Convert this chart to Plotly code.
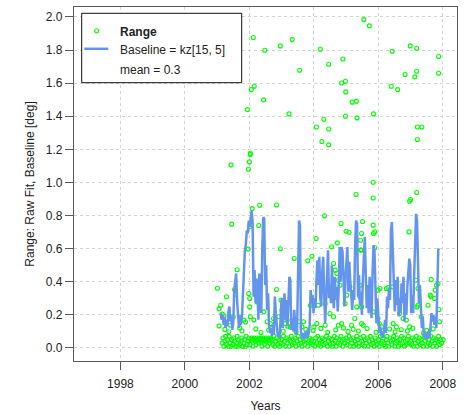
import plotly.graph_objects as go

# ---- Range fits: large outliers ----
high_years = [2002.12, 2002.48, 2002.96, 2003.33, 2003.56, 2002.06, 2002.15, 2002.44, 2001.94, 2003.23,
              2001.43, 2001.97, 2002.00, 2002.03, 2002.03, 2004.20, 2004.46, 2004.90, 2005.55, 2005.72,
              2004.86, 2004.98, 2004.99, 2005.19, 2005.32, 2004.98, 2005.34, 2005.85, 2004.08, 2004.31,
              2004.46, 2004.25, 2004.46, 2006.43, 2006.99, 2007.19, 2007.87, 2006.40, 2006.60, 2006.83,
              2007.13, 2007.19, 2007.87, 2007.21, 2007.35, 2007.21, 2005.84, 2005.31, 2005.84, 2007.19,
              2006.97, 2007.00]
high_vals = [1.876, 1.799, 1.825, 1.863, 1.678, 1.561, 1.581, 1.499, 1.440, 1.414,
             1.106, 1.080, 1.124, 1.176, 1.168, 1.805, 1.714, 1.746, 1.984, 1.946,
             1.601, 1.611, 1.547, 1.485, 1.491, 1.400, 1.390, 1.414, 1.335, 1.382,
             1.323, 1.247, 1.227, 1.793, 1.825, 1.811, 1.761, 1.581, 1.561, 1.652,
             1.638, 1.672, 1.660, 1.335, 1.335, 1.259, 1.001, 0.927, 0.906, 0.939,
             0.887, 0.897]

# ---- Range fits: middle values ----
mid_years = [2001.01, 2001.29, 2001.11, 2001.06, 2001.16, 2001.06, 2001.21, 2001.45, 2001.54, 2001.57,
             2001.62, 2001.50, 2001.42, 2001.83, 2001.88, 2001.98, 2002.01, 2002.01, 2001.96, 2002.01,
             2002.09, 2002.29, 2002.32, 2002.84, 2002.84, 2002.96, 2002.98, 2003.01, 2003.19, 2002.24,
             2002.45, 2002.55, 2002.65, 2002.75, 2002.91, 2003.11, 2002.03, 2002.14,
             2003.39, 2003.81, 2003.94, 2004.07, 2004.33, 2004.55, 2004.73, 2004.84, 2005.00, 2005.09,
             2005.51, 2005.48, 2004.66, 2004.71, 2004.76, 2004.61, 2004.81, 2004.55, 2004.97, 2005.02,
             2005.12, 2005.33, 2005.43, 2005.48, 2004.35, 2004.50, 2004.61, 2004.76, 2004.86, 2005.17,
             2005.27, 2004.14, 2004.09, 2003.89, 2003.68, 2003.63, 2003.27, 2003.17, 2003.53, 2004.35,
             2004.00, 2005.48,
             2005.84, 2005.89, 2005.85, 2005.89, 2006.95, 2005.45, 2005.45, 2005.74, 2005.99, 2006.05,
             2006.25, 2006.30, 2006.44, 2007.16, 2007.23, 2007.64, 2007.80, 2007.85, 2007.77, 2007.61,
             2007.64, 2007.74, 2007.54, 2007.88, 2007.90, 2007.23, 2007.33, 2007.20, 2006.87, 2006.66,
             2006.77, 2006.46, 2006.56, 2005.84, 2005.99, 2006.03, 2006.10, 2005.53, 2005.48, 2005.43,
             2006.97,
             2001.24, 2001.36, 2001.70, 2001.77, 2002.20, 2002.36, 2002.60, 2002.70, 2003.05, 2003.45,
             2003.75, 2003.98, 2004.22, 2004.43, 2004.68, 2004.92, 2005.06, 2005.22, 2005.38, 2005.65,
             2005.93, 2006.15, 2006.35, 2006.52, 2006.71, 2006.90, 2007.07, 2007.40, 2007.50, 2007.70]
mid_vals = [0.361, 0.309, 0.258, 0.236, 0.204, 0.133, 0.194, 0.748, 0.353, 0.325,
            0.472, 0.188, 0.137, 0.168, 0.157, 0.329, 0.299, 0.248, 0.597, 0.732,
            0.842, 0.740, 0.862, 0.864, 0.353, 0.599, 0.289, 0.228, 0.131, 0.278,
            0.218, 0.158, 0.147, 0.178, 0.188, 0.147, 0.188, 0.168,
            0.540, 0.526, 0.554, 0.661, 0.798, 0.611, 0.635, 0.752, 0.705, 0.699,
            0.764, 0.691, 0.470, 0.450, 0.409, 0.510, 0.379, 0.369, 0.268, 0.319,
            0.369, 0.248, 0.379, 0.591, 0.268, 0.208, 0.188, 0.137, 0.147, 0.137,
            0.178, 0.258, 0.147, 0.258, 0.158, 0.127, 0.127, 0.168, 0.158, 0.137,
            0.127, 0.147,
            0.742, 0.701, 0.691, 0.605, 0.701, 0.651, 0.591, 0.369, 0.349, 0.359,
            0.359, 0.365, 0.369, 0.409, 0.359, 0.413, 0.379, 0.389, 0.349, 0.319,
            0.309, 0.299, 0.258, 0.232, 0.158, 0.258, 0.188, 0.248, 0.168, 0.208,
            0.178, 0.147, 0.127, 0.218, 0.178, 0.147, 0.127, 0.137, 0.248, 0.309,
            0.127,
            0.112, 0.098, 0.121, 0.104, 0.115, 0.093, 0.108, 0.119, 0.101, 0.096,
            0.112, 0.105, 0.118, 0.094, 0.109, 0.121, 0.099, 0.113, 0.102, 0.117,
            0.095, 0.108, 0.114, 0.097, 0.110, 0.103, 0.119, 0.092, 0.106, 0.115]

# ---- Range fits: near-zero values ----
low_years = [2001.16, 2001.18, 2001.21, 2001.24, 2001.26, 2001.29, 2001.32, 2001.35, 2001.37, 2001.40,
             2001.43, 2001.46, 2001.49, 2001.51, 2001.54, 2001.57, 2001.60, 2001.62, 2001.65, 2001.68,
             2001.71, 2001.74, 2001.76, 2001.79, 2001.82, 2001.85, 2001.88, 2001.90, 2001.93, 2001.96,
             2001.99,
             2002.02, 2002.05, 2002.07, 2002.09, 2002.11, 2002.13, 2002.15, 2002.17, 2002.19, 2002.21,
             2002.23, 2002.25, 2002.27, 2002.29, 2002.31, 2002.33, 2002.35, 2002.37, 2002.39, 2002.41,
             2002.43, 2002.45, 2002.47, 2002.49, 2002.51, 2002.53, 2002.55, 2002.57, 2002.59, 2002.61,
             2002.63, 2002.65, 2002.67, 2002.69, 2002.71, 2002.73, 2002.76, 2002.79, 2002.82, 2002.85,
             2002.88, 2002.91, 2002.94, 2002.97,
             2003.00, 2003.03, 2003.06, 2003.09, 2003.12, 2003.15, 2003.18, 2003.21, 2003.24, 2003.27,
             2003.30, 2003.33, 2003.36, 2003.39, 2003.42, 2003.45, 2003.48, 2003.51, 2003.54, 2003.57,
             2003.60, 2003.63, 2003.66, 2003.69, 2003.72, 2003.75, 2003.78, 2003.81, 2003.84, 2003.87,
             2003.90, 2003.93, 2003.96,
             2004.00, 2004.03, 2004.06, 2004.09, 2004.12, 2004.15, 2004.18, 2004.21, 2004.24, 2004.27,
             2004.30, 2004.33, 2004.36, 2004.39, 2004.42, 2004.45, 2004.48, 2004.51, 2004.54, 2004.57,
             2004.60, 2004.63, 2004.66, 2004.69, 2004.72, 2004.75, 2004.78, 2004.81, 2004.84, 2004.87,
             2004.90, 2004.93, 2004.96,
             2005.00, 2005.03, 2005.06, 2005.09, 2005.12, 2005.15, 2005.18, 2005.21, 2005.24, 2005.27,
             2005.30, 2005.33, 2005.36, 2005.39, 2005.42, 2005.45, 2005.48, 2005.51, 2005.54, 2005.57,
             2005.60, 2005.63, 2005.66, 2005.69, 2005.72, 2005.75, 2005.78, 2005.81, 2005.84, 2005.87,
             2005.90, 2005.93, 2005.96,
             2006.00, 2006.03, 2006.06, 2006.09, 2006.12, 2006.15, 2006.18, 2006.21, 2006.24, 2006.27,
             2006.30, 2006.33, 2006.36, 2006.39, 2006.42, 2006.45, 2006.48, 2006.51, 2006.54, 2006.57,
             2006.60, 2006.63, 2006.66, 2006.69, 2006.72, 2006.75, 2006.78, 2006.81, 2006.84, 2006.87,
             2006.90, 2006.93, 2006.96,
             2007.00, 2007.03, 2007.06, 2007.09, 2007.12, 2007.15, 2007.18, 2007.21, 2007.24, 2007.27,
             2007.30, 2007.33, 2007.36, 2007.39, 2007.42, 2007.45, 2007.48, 2007.51, 2007.54, 2007.57,
             2007.60, 2007.63, 2007.66, 2007.69, 2007.72, 2007.75, 2007.78, 2007.81, 2007.84, 2007.87,
             2007.90, 2007.93, 2007.96, 2008.01]
low_vals = [0.03, 0.06, 0.01, 0.04, 0.07, 0.02, 0.05, 0.01, 0.07, 0.03,
            0.01, 0.05, 0.02, 0.06, 0.04, 0.01, 0.03, 0.07, 0.01, 0.05,
            0.02, 0.04, 0.06, 0.01, 0.03, 0.05, 0.01, 0.07, 0.02, 0.04,
            0.06,
            0.02, 0.05, 0.06, 0.05, 0.01, 0.05, 0.06, 0.04, 0.05, 0.02,
            0.06, 0.05, 0.05, 0.03, 0.06, 0.05, 0.04, 0.06, 0.01, 0.05,
            0.06, 0.05, 0.02, 0.05, 0.06, 0.04, 0.05, 0.01, 0.06, 0.05,
            0.03, 0.05, 0.06, 0.04, 0.05, 0.02, 0.07, 0.01, 0.04, 0.06,
            0.02, 0.05, 0.01, 0.03,
            0.05, 0.02, 0.07, 0.04, 0.01, 0.06, 0.03, 0.05, 0.01, 0.04,
            0.07, 0.02, 0.05, 0.03, 0.06, 0.01, 0.04, 0.07, 0.02, 0.05,
            0.03, 0.01, 0.06, 0.04, 0.02, 0.05, 0.07, 0.01, 0.04, 0.06,
            0.03, 0.05, 0.02,
            0.04, 0.01, 0.06, 0.03, 0.07, 0.02, 0.05, 0.01, 0.04, 0.06,
            0.02, 0.05, 0.03, 0.07, 0.01, 0.04, 0.06, 0.02, 0.05, 0.01,
            0.03, 0.07, 0.04, 0.01, 0.06, 0.03, 0.05, 0.02, 0.07, 0.04,
            0.01, 0.05, 0.03,
            0.06, 0.02, 0.04, 0.07, 0.01, 0.05, 0.03, 0.06, 0.01, 0.04,
            0.02, 0.07, 0.05, 0.01, 0.03, 0.06, 0.04, 0.02, 0.07, 0.01,
            0.05, 0.03, 0.06, 0.01, 0.04, 0.07, 0.02, 0.05, 0.03, 0.01,
            0.06, 0.04, 0.02,
            0.05, 0.01, 0.07, 0.03, 0.04, 0.06, 0.02, 0.01, 0.05, 0.07,
            0.03, 0.01, 0.06, 0.04, 0.02, 0.05, 0.07, 0.01, 0.03, 0.06,
            0.04, 0.01, 0.05, 0.02, 0.07, 0.03, 0.06, 0.01, 0.04, 0.02,
            0.05, 0.07, 0.03,
            0.04, 0.02, 0.06, 0.01, 0.05, 0.03, 0.07, 0.01, 0.04, 0.06,
            0.02, 0.05, 0.03, 0.01, 0.07, 0.04, 0.06, 0.01, 0.03, 0.05,
            0.02, 0.07, 0.04, 0.01, 0.06, 0.03, 0.05, 0.01, 0.04, 0.07,
            0.02, 0.05, 0.03, 0.05]

# ---- KZ-filtered baseline ----
baseline_years = [2001.11, 2001.14, 2001.17, 2001.20, 2001.23, 2001.26, 2001.29, 2001.32, 2001.35, 2001.38,
                  2001.41, 2001.44, 2001.47, 2001.50, 2001.53, 2001.56, 2001.59, 2001.62, 2001.65, 2001.68,
                  2001.71, 2001.74, 2001.77, 2001.80, 2001.83, 2001.86, 2001.89, 2001.92, 2001.95, 2001.98,
                  2002.01, 2002.04, 2002.07, 2002.10, 2002.13, 2002.16, 2002.19, 2002.22, 2002.25, 2002.28,
                  2002.31, 2002.34, 2002.37, 2002.40, 2002.43, 2002.46, 2002.49, 2002.52, 2002.55, 2002.58,
                  2002.61, 2002.64, 2002.67, 2002.70, 2002.73, 2002.76, 2002.79, 2002.82, 2002.85, 2002.88,
                  2002.91, 2002.94, 2002.97, 2003.00, 2003.03, 2003.06, 2003.09, 2003.12, 2003.15, 2003.18,
                  2003.21, 2003.24, 2003.27, 2003.30, 2003.33, 2003.36, 2003.39, 2003.42, 2003.45, 2003.48,
                  2003.51, 2003.54, 2003.57, 2003.60, 2003.63, 2003.66, 2003.69, 2003.72, 2003.75, 2003.78,
                  2003.81, 2003.84, 2003.87, 2003.90, 2003.93, 2003.96, 2003.99, 2004.02, 2004.05, 2004.08,
                  2004.11, 2004.14, 2004.17, 2004.20, 2004.23, 2004.26, 2004.29, 2004.32, 2004.35, 2004.38,
                  2004.41, 2004.44, 2004.47, 2004.50, 2004.53, 2004.56, 2004.59, 2004.62, 2004.65, 2004.68,
                  2004.71, 2004.74, 2004.77, 2004.80, 2004.83, 2004.86, 2004.89, 2004.92, 2004.95, 2004.98,
                  2005.01, 2005.04, 2005.07, 2005.10, 2005.13, 2005.16, 2005.19, 2005.22, 2005.25, 2005.28,
                  2005.31, 2005.34, 2005.37, 2005.40, 2005.43, 2005.46, 2005.49, 2005.52, 2005.55, 2005.58,
                  2005.61, 2005.64, 2005.67, 2005.70, 2005.73, 2005.76, 2005.79, 2005.82, 2005.85, 2005.88,
                  2005.91, 2005.94, 2005.97, 2006.00, 2006.03, 2006.06, 2006.09, 2006.12, 2006.15, 2006.18,
                  2006.21, 2006.24, 2006.27, 2006.30, 2006.33, 2006.36, 2006.39, 2006.42, 2006.45, 2006.48,
                  2006.51, 2006.54, 2006.57, 2006.60, 2006.63, 2006.66, 2006.69, 2006.72, 2006.75, 2006.78,
                  2006.81, 2006.84, 2006.87, 2006.90, 2006.93, 2006.96, 2006.99, 2007.02, 2007.05, 2007.08,
                  2007.11, 2007.14, 2007.17, 2007.20, 2007.23, 2007.26, 2007.29, 2007.32, 2007.35, 2007.38,
                  2007.41, 2007.44, 2007.47, 2007.50, 2007.53, 2007.56, 2007.59, 2007.62, 2007.65, 2007.68,
                  2007.71, 2007.74, 2007.77, 2007.80, 2007.83, 2007.86, 2007.88]
baseline_vals = [0.21, 0.17, 0.20, 0.14, 0.19, 0.12, 0.17, 0.13, 0.22, 0.25,
                 0.16, 0.19, 0.11, 0.15, 0.35, 0.42, 0.45, 0.28, 0.17, 0.12,
                 0.20, 0.14, 0.19, 0.33, 0.48, 0.59, 0.62, 0.71, 0.69, 0.77,
                 0.73, 0.81, 0.83, 0.76, 0.31, 0.47, 0.27, 0.42, 0.35, 0.17,
                 0.45, 0.31, 0.21, 0.60, 0.79, 0.78, 0.38, 0.50, 0.23, 0.33,
                 0.13, 0.09, 0.12, 0.07, 0.14, 0.08, 0.31, 0.21, 0.11, 0.07,
                 0.09, 0.06, 0.19, 0.30, 0.12, 0.26, 0.33, 0.17, 0.29, 0.13,
                 0.27, 0.43, 0.41, 0.11, 0.18, 0.10, 0.23, 0.15, 0.08, 0.11,
                 0.62, 0.77, 0.74, 0.10, 0.06, 0.09, 0.05, 0.07, 0.10, 0.06,
                 0.11, 0.08, 0.14, 0.35, 0.27, 0.32, 0.21, 0.30, 0.24, 0.41,
                 0.53, 0.38, 0.55, 0.30, 0.25, 0.46, 0.55, 0.33, 0.15, 0.29,
                 0.45, 0.59, 0.30, 0.38, 0.27, 0.50, 0.33, 0.24, 0.43, 0.29,
                 0.37, 0.22, 0.35, 0.61, 0.40, 0.61, 0.58, 0.36, 0.25, 0.42,
                 0.56, 0.61, 0.34, 0.52, 0.40, 0.28, 0.23, 0.35, 0.29, 0.62,
                 0.77, 0.75, 0.31, 0.44, 0.26, 0.34, 0.20, 0.41, 0.61, 0.67,
                 0.45, 0.24, 0.38, 0.21, 0.43, 0.29, 0.18, 0.45, 0.62, 0.59,
                 0.26, 0.15, 0.30, 0.17, 0.09, 0.13, 0.07, 0.10, 0.06, 0.12,
                 0.17, 0.09, 0.31, 0.24, 0.36, 0.29, 0.71, 0.76, 0.59, 0.34,
                 0.22, 0.41, 0.26, 0.43, 0.19, 0.30, 0.21, 0.39, 0.27, 0.43,
                 0.16, 0.33, 0.20, 0.37, 0.48, 0.54, 0.50, 0.21, 0.32, 0.21,
                 0.43, 0.70, 0.81, 0.77, 0.40, 0.27, 0.38, 0.25, 0.12, 0.19,
                 0.08, 0.06, 0.09, 0.05, 0.07, 0.10, 0.06, 0.12, 0.21, 0.16,
                 0.20, 0.14, 0.19, 0.12, 0.35, 0.60, 0.59]

x_ticks = [1998, 2000, 2002, 2004, 2006, 2008]
y_ticks = [0.0, 0.2, 0.4, 0.6, 0.8, 1.0, 1.2, 1.4, 1.6, 1.8, 2.0]
y_tick_text = ["0.0", "0.2", "0.4", "0.6", "0.8", "1.0", "1.2", "1.4", "1.6", "1.8", "2.0"]

legend_labels = ["<b>Range</b>", "Baseline = kz[15, 5]", "mean = 0.3"]

range_years = low_years + mid_years + high_years
range_vals = low_vals + mid_vals + high_vals

FONT = "Liberation Sans, Arial, sans-serif"
AXIS_GREY = "#5a5a5a"
TEXT = "#222222"
GREEN = "#00ff00"
BLUE = "#6495ed"

# plot area in pixels (used to place the legend box)
W, H = 469, 414
ML, MR, MT, MB = 74, 12, 7, 53
PW, PH = W - ML - MR, H - MT - MB


def px(x):
    return (x - ML) / PW


def py(y):
    return (H - MB - y) / PH


fig = go.Figure()
fig.add_trace(go.Scatter(
    x=range_years, y=range_vals, mode="markers", name="Range", showlegend=False,
    marker=dict(symbol="circle-open", size=4, color=GREEN, line=dict(width=1.1, color=GREEN)),
))
fig.add_trace(go.Scatter(
    x=baseline_years, y=baseline_vals, mode="lines", name="Baseline", showlegend=False,
    line=dict(color=BLUE, width=2.5),
))

# legend box
shapes = [
    dict(type="rect", xref="paper", yref="paper", x0=px(81.7), x1=px(241.7), y0=py(82.7), y1=py(13.3),
         line=dict(color="#111111", width=1), fillcolor="white", layer="above"),
    dict(type="circle", xref="paper", yref="paper", x0=px(94.7), x1=px(98.7), y0=py(32.7), y1=py(28.7),
         line=dict(color=GREEN, width=1.1), layer="above"),
    dict(type="line", xref="paper", yref="paper", x0=px(84.3), x1=px(108.3), y0=py(48.8), y1=py(48.8),
         line=dict(color=BLUE, width=2.5), layer="above"),
]
annotations = []
for label, yy in zip(legend_labels, [31.8, 50.3, 69.8]):
    annotations.append(dict(
        text=label, xref="paper", yref="paper", x=px(117.5), y=py(yy),
        xanchor="left", yanchor="middle", showarrow=False,
        font=dict(family=FONT, size=12, color=TEXT),
    ))

fig.update_layout(
    width=W, height=H,
    margin=dict(l=ML, r=MR, t=MT, b=MB),
    paper_bgcolor="white", plot_bgcolor="white",
    font=dict(family=FONT, size=12, color=TEXT),
    showlegend=False,
    shapes=shapes,
    annotations=annotations,
)
fig.update_xaxes(
    range=[1996.56, 2008.44], tickmode="array", tickvals=x_ticks,
    showline=True, mirror=True, linecolor=AXIS_GREY, linewidth=1.3,
    ticks="outside", ticklen=8, tickcolor=AXIS_GREY, tickwidth=1.3,
    ticklabelstandoff=3, automargin=False,
    showgrid=True, gridcolor="#d3d3d3", griddash="dot", gridwidth=1,
    zeroline=False,
    title=dict(text="Years", font=dict(family=FONT, size=12, color=TEXT), standoff=12),
)
fig.update_yaxes(
    range=[-0.079, 2.06], tickmode="array", tickvals=y_ticks, ticktext=y_tick_text,
    showline=True, mirror=True, linecolor=AXIS_GREY, linewidth=1.3,
    ticks="outside", ticklen=8, tickcolor=AXIS_GREY, tickwidth=1.3,
    automargin=False,
    showgrid=True, gridcolor="#d3d3d3", griddash="dot", gridwidth=1,
    zeroline=False,
    title=dict(text="Range: Raw Fit, Baseline [deg]", font=dict(family=FONT, size=12, color=TEXT), standoff=8),
)

fig.write_html("out.html")
